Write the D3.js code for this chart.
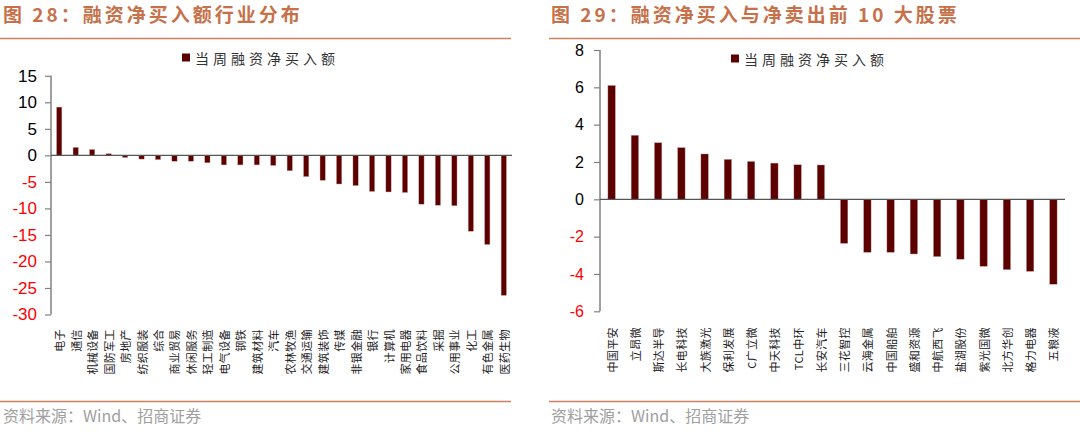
<!DOCTYPE html>
<html>
<head>
<meta charset="utf-8">
<script src="https://cdn.jsdelivr.net/npm/d3@7"></script>
<style>
  body { margin: 0; background: #fff; }
  svg { display: block; }
  .title { font-family: "Noto Sans CJK SC", "Liberation Sans", sans-serif; font-weight: bold; font-size: 19px; fill: #c6714a; letter-spacing: 3px; }
  .src { font-family: "Noto Sans CJK SC", "Liberation Sans", sans-serif; font-size: 16px; fill: #a0a0a0; }
  .tick-lbl { font-family: "Liberation Sans", Arial, sans-serif; }
  .cat { font-family: "Noto Sans CJK SC", sans-serif; fill: #222; }
  .legend { font-family: "Noto Sans CJK SC", sans-serif; font-size: 14px; fill: #333; letter-spacing: 4px; }
</style>
</head>
<body>
<svg id="chart" width="1080" height="432"></svg>
<script>
// 图28 行业
var industries = ["电子","通信","机械设备","国防军工","房地产","纺织服装","综合","商业贸易","休闲服务","轻工制造",
  "电气设备","钢铁","建筑材料","汽车","农林牧渔","交通运输","建筑装饰","传媒","非银金融","银行",
  "计算机","家用电器","食品饮料","采掘","公用事业","化工","有色金属","医药生物"];
var industryValues = [9.1, 1.5, 1.1, 0.3, -0.4, -0.7, -0.8, -1.1, -1.1, -1.4,
  -1.8, -1.8, -1.8, -1.9, -2.9, -4.0, -4.7, -5.4, -5.7, -6.8,
  -6.9, -7.0, -9.2, -9.4, -9.5, -14.3, -16.8, -26.4];
var industryTicks = [15, 10, 5, 0, -5, -10, -15, -20, -25, -30];

// 图29 个股
var stocks = ["中国平安","立昂微","斯达半导","长电科技","大族激光","保利发展","C广立微","中天科技","TCL中环","长安汽车",
  "三花智控","云海金属","中国船舶","盛和资源","中航西飞","盐湖股份","紫光国微","北方华创","格力电器","五粮液"];
var stockValues = [6.1, 3.43, 3.03, 2.77, 2.43, 2.14, 2.03, 1.94, 1.85, 1.84,
  -2.36, -2.84, -2.84, -2.93, -3.07, -3.21, -3.59, -3.77, -3.86, -4.55];
var stockTicks = [8, 6, 4, 2, 0, -2, -4, -6];

var legendText = "当周融资净买入额";
var barColor = "#5c0000";

var svg = d3.select("#chart");

function panel(opt) {
  var g = svg.append("g");

  // title + rules
  g.append("text").attr("class", "title").attr("x", opt.titleX).attr("y", 22).text(opt.title);
  g.append("line").attr("x1", opt.ruleX0).attr("x2", opt.ruleX1).attr("y1", 38.5).attr("y2", 38.5)
    .attr("stroke", "#d0805e").attr("stroke-width", 1.5);
  g.append("line").attr("x1", opt.ruleX0).attr("x2", opt.ruleX1).attr("y1", 401.5).attr("y2", 401.5)
    .attr("stroke", "#d0805e").attr("stroke-width", 1.5);
  g.append("text").attr("class", "src").attr("x", opt.titleX).attr("y", 422).text("资料来源：Wind、招商证券");

  var x = d3.scaleBand().domain(opt.cats).range([opt.x0, opt.x1]).paddingInner(0.68).paddingOuter(0.34);
  var y = d3.scaleLinear().domain(opt.domain).range([opt.y0, opt.y1]);

  // y axis
  var yAxis = g.append("g").attr("transform", "translate(" + opt.x0 + ",0)")
    .call(d3.axisLeft(y).tickValues(opt.ticks).tickSize(6).tickPadding(opt.pad).tickFormat(d3.format("d")));
  yAxis.select(".domain").attr("stroke", "#808080").attr("stroke-width", 1.5).attr("d", "M0," + y(opt.domain[1]) + "V" + y(opt.domain[0]));
  yAxis.selectAll(".tick line").attr("stroke", "#808080").attr("stroke-width", 1.2);
  yAxis.selectAll(".tick text").attr("class", "tick-lbl")
    .style("font-size", opt.tickFont + "px")
    .attr("fill", function(d) { return d < 0 ? "#ff0000" : "#000"; })
    .text(function(d) { return d; });

  // bars
  g.selectAll("rect.bar").data(opt.values).enter().append("rect")
    .attr("class", "bar")
    .attr("x", function(d, i) { return x(opt.cats[i]); })
    .attr("width", x.bandwidth())
    .attr("y", function(d) { return y(Math.max(0, d)); })
    .attr("height", function(d) { return Math.abs(y(d) - y(0)); })
    .attr("fill", barColor)
    .attr("stroke", "#c8a0a0").attr("stroke-width", 0.4);

  // zero line
  g.append("line").attr("x1", opt.x0).attr("x2", opt.x1).attr("y1", y(0)).attr("y2", y(0))
    .attr("stroke", "#555").attr("stroke-width", 1.2);

  // category labels (rotated, reading upward)
  g.selectAll("text.cat").data(opt.cats).enter().append("text")
    .attr("class", "cat")
    .attr("transform", function(d) { return "translate(" + (x(d) + x.bandwidth() / 2) + "," + opt.labelY + ") rotate(-90)"; })
    .attr("text-anchor", "end")
    .attr("dominant-baseline", "central")
    .style("font-size", opt.catFont + "px")
    .style("letter-spacing", opt.catSpacing + "px")
    .text(function(d) { return d; });

  // legend
  g.append("rect").attr("x", opt.legX).attr("y", opt.legY - 4).attr("width", 8).attr("height", 8).attr("fill", barColor);
  g.append("text").attr("class", "legend").attr("x", opt.legX + 13).attr("y", opt.legY).attr("dominant-baseline", "central").text(legendText);
}

panel({
  title: "图 28：融资净买入额行业分布", titleX: 3, ruleX0: 0, ruleX1: 511,
  cats: industries, values: industryValues, ticks: industryTicks,
  domain: [-30, 15], x0: 51, x1: 512, y0: 314.5, y1: 75.8,
  pad: 8, tickFont: 17, labelY: 329, catFont: 11, catSpacing: 0.4,
  legX: 182, legY: 57.5
});

panel({
  title: "图 29：融资净买入与净卖出前 10 大股票", titleX: 551, ruleX0: 549, ruleX1: 1080,
  cats: stocks, values: stockValues, ticks: stockTicks,
  domain: [-6, 8], x0: 600, x1: 1065, y0: 311.3, y1: 50,
  pad: 10, tickFont: 16, labelY: 327, catFont: 11, catSpacing: 0.4,
  legX: 731, legY: 58.5
});
</script>
</body>
</html>
